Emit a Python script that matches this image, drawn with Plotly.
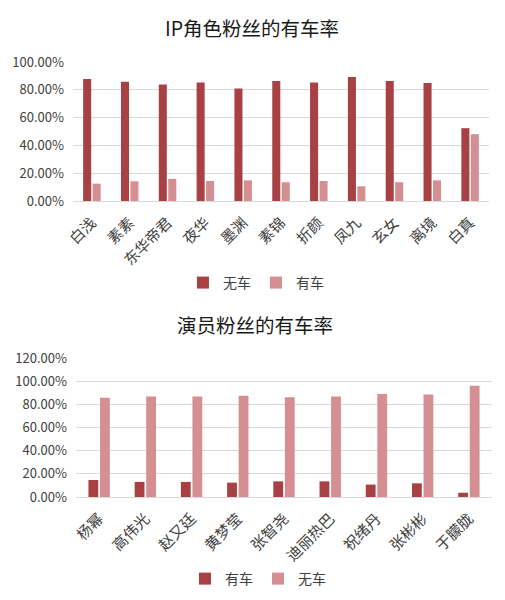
import plotly.graph_objects as go
from plotly.subplots import make_subplots

# IP 角色粉丝
ip_roles = ["白浅", "素素", "东华帝君", "夜华", "墨渊", "素锦", "折颜", "凤九", "玄女", "离境", "白真"]
ip_no_car = [0.877, 0.858, 0.839, 0.853, 0.810, 0.863, 0.853, 0.892, 0.863, 0.849, 0.524]
ip_car = [0.125, 0.142, 0.159, 0.144, 0.149, 0.135, 0.144, 0.106, 0.135, 0.149, 0.481]

# 演员粉丝
actors = ["杨幂", "高伟光", "赵又廷", "黄梦莹", "张智尧", "迪丽热巴", "祝绪丹", "张彬彬", "于朦胧"]
actor_car = [0.147, 0.130, 0.130, 0.124, 0.135, 0.135, 0.107, 0.118, 0.037]
actor_no_car = [0.856, 0.867, 0.867, 0.873, 0.862, 0.867, 0.890, 0.885, 0.960]

DARK = "#a84144"
LIGHT = "#d58f92"
GRID = "#d9d9d9"
FONT = "Noto Sans CJK SC"

fig = make_subplots(rows=2, cols=1)

fig.add_trace(go.Bar(name="无车", x=ip_roles, y=ip_no_car, marker_color=DARK,
                     legend="legend"), row=1, col=1)
fig.add_trace(go.Bar(name="有车", x=ip_roles, y=ip_car, marker_color=LIGHT,
                     legend="legend"), row=1, col=1)
fig.add_trace(go.Bar(name="有车", x=actors, y=actor_car, marker_color=DARK,
                     legend="legend2"), row=2, col=1)
fig.add_trace(go.Bar(name="无车", x=actors, y=actor_no_car, marker_color=LIGHT,
                     legend="legend2"), row=2, col=1)

xax = dict(tickangle=-45, showline=False, ticks="", automargin=False,
           ticklabelstandoff=9, tickfont=dict(size=15, color="#404040"))
yax = dict(dtick=0.2, tickformat=".2%", gridcolor=GRID, zeroline=True,
           zerolinecolor=GRID, ticks="", automargin=False,
           ticklabelstandoff=8, tickfont=dict(size=13, color="#404040"))

# the page body adds an 8px margin, so domains are set 8px up and left
fig.update_layout(
    template="none",
    width=505, height=600,
    margin=dict(l=0, r=0, t=0, b=0, pad=0),
    paper_bgcolor="white", plot_bgcolor="white",
    font=dict(family=FONT, size=12, color="#404040"),
    barmode="group", bargap=0.5, bargroupgap=0.15,
    xaxis=dict(xax, domain=[0.1287, 0.9525]),
    yaxis=dict(yax, domain=[0.6783, 0.91], range=[0, 1.0]),
    xaxis2=dict(xax, domain=[0.1347, 0.9584]),
    yaxis2=dict(yax, domain=[0.185, 0.4167], range=[0, 1.2]),
    legend=dict(orientation="h", x=0.491, xanchor="center", y=0.5417, yanchor="middle",
                font=dict(size=14), itemwidth=30, bgcolor="rgba(0,0,0,0)"),
    legend2=dict(orientation="h", x=0.495, xanchor="center", y=0.0483, yanchor="middle",
                 font=dict(size=14), itemwidth=30, bgcolor="rgba(0,0,0,0)"),
    annotations=[
        dict(text="IP角色粉丝的有车率", x=0.483, y=0.967, xref="paper", yref="paper",
             xanchor="center", yanchor="middle", showarrow=False,
             font=dict(size=19.5, color="#1a1a1a")),
        dict(text="演员粉丝的有车率", x=0.489, y=0.4717, xref="paper", yref="paper",
             xanchor="center", yanchor="middle", showarrow=False,
             font=dict(size=19.5, color="#1a1a1a")),
    ],
)

fig.write_html("out.html")
